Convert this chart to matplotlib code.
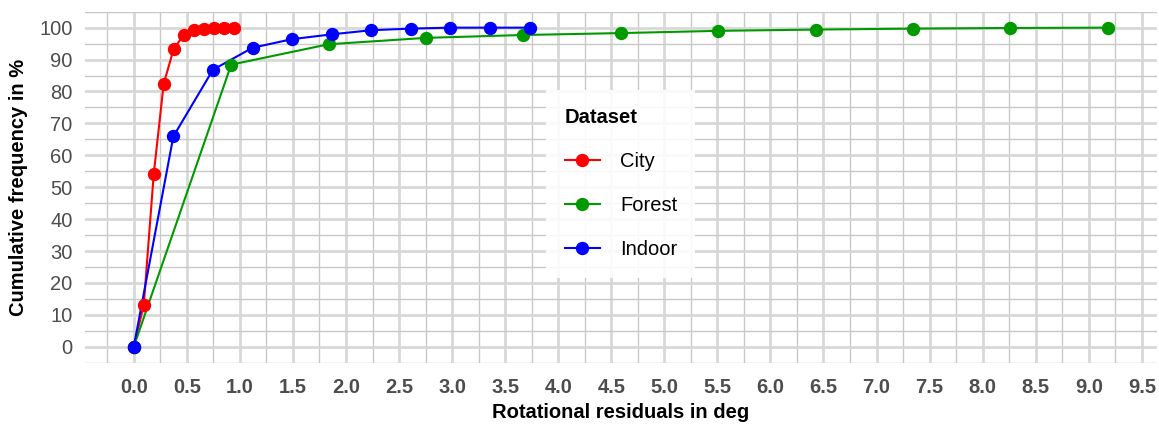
import matplotlib
matplotlib.use("Agg")
import matplotlib.pyplot as plt
from matplotlib.lines import Line2D
from matplotlib.ticker import MultipleLocator

plt.rcParams['font.family'] = ['Liberation Sans', 'DejaVu Sans']

# ---- data ----
datasets = ["City", "Forest", "Indoor"]
colors = {"City": "#FF0000", "Forest": "#009A00", "Indoor": "#0000FF"}

city_x = [0.0, 0.094, 0.188, 0.282, 0.376, 0.47, 0.564, 0.658, 0.752, 0.846, 0.94]
city_y = [0, 13.0, 54.0, 82.4, 93.3, 97.7, 99.2, 99.7, 99.9, 100, 100]

forest_x = [0.0, 0.918, 1.836, 2.754, 3.672, 4.59, 5.508, 6.426, 7.344, 8.262, 9.18]
forest_y = [0, 88.4, 94.8, 96.8, 97.7, 98.3, 99.0, 99.4, 99.7, 99.9, 100]

indoor_x = [0.0, 0.373, 0.746, 1.119, 1.492, 1.865, 2.238, 2.611, 2.984, 3.357, 3.73]
indoor_y = [0, 65.9, 86.8, 93.7, 96.4, 97.9, 99.2, 99.7, 100, 100, 100]

series = {"City": (city_x, city_y), "Forest": (forest_x, forest_y), "Indoor": (indoor_x, indoor_y)}

x_ticks = [0.0, 0.5, 1.0, 1.5, 2.0, 2.5, 3.0, 3.5, 4.0, 4.5, 5.0, 5.5, 6.0, 6.5, 7.0, 7.5, 8.0, 8.5, 9.0, 9.5]
y_ticks = [0, 10, 20, 30, 40, 50, 60, 70, 80, 90, 100]

# ---- figure ----
fig = plt.figure(figsize=(11.59, 4.24), dpi=100)
ax = fig.add_axes([0.0733, 0.1446, 0.998 - 0.0733, 0.9724 - 0.1446])

for name in datasets:
    xs, ys = series[name]
    ax.plot(xs, ys, color=colors[name], lw=1.5, zorder=3, solid_capstyle='butt')
for name in datasets:
    xs, ys = series[name]
    ax.plot(xs, ys, ls='none', marker='o', ms=8.6, color=colors[name], zorder=4)

ax.set_xlim(-0.46, 9.64)
ax.set_ylim(-5, 105)
ax.set_xticks(x_ticks)
ax.set_xticklabels([f"{t:.1f}" for t in x_ticks], fontweight='bold')
ax.set_yticks(y_ticks)
ax.set_yticklabels([str(t) for t in y_ticks])
ax.xaxis.set_minor_locator(MultipleLocator(0.25))
ax.yaxis.set_minor_locator(MultipleLocator(5))

ax.grid(which='major', color='#d8d8d8', lw=2.0, zorder=0)
ax.grid(which='minor', color='#c8c8c8', lw=1.0, zorder=0)
ax.set_axisbelow(True)
for s in ax.spines.values():
    s.set_visible(False)
ax.tick_params(which='both', length=0)
ax.tick_params(axis='x', labelsize=14.5, labelcolor='#4D4D4D', pad=11)
ax.tick_params(axis='y', labelsize=14.5, labelcolor='#4D4D4D', pad=9)

ax.set_xlabel("Rotational residuals in deg", fontsize=14.5, fontweight='bold', labelpad=4)
ax.set_ylabel("Cumulative frequency in %", fontsize=14.5, fontweight='bold', labelpad=8)

handles = [Line2D([], [], color=colors[n], lw=1.5, marker='o', ms=8.6) for n in datasets]
leg = ax.legend(handles, datasets, title="Dataset", loc='center', fontsize=14.5,
                title_fontproperties={'weight': 'bold', 'size': 14.5},
                alignment='left', frameon=True, handlelength=1.75, handletextpad=1.0,
                labelspacing=1.25, borderpad=0.9, borderaxespad=0,
                bbox_to_anchor=(0.5, 0.51))
leg.get_frame().set_facecolor('white')
leg.get_frame().set_alpha(0.88)
leg.get_frame().set_edgecolor('none')
leg.get_frame().set_boxstyle('square', pad=0)
leg.set_zorder(5)

fig.savefig("out.png", dpi=100)
